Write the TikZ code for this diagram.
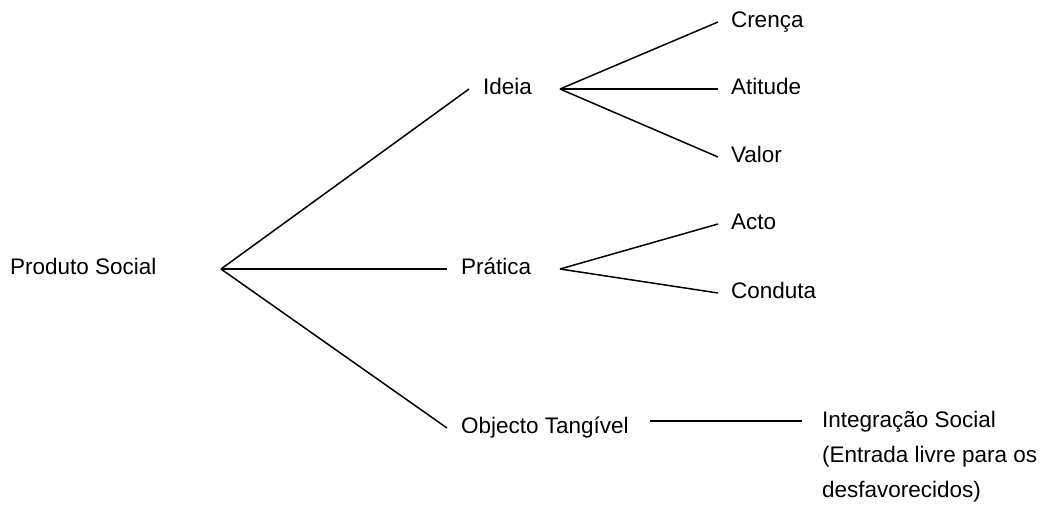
\documentclass[tikz,border=0pt]{standalone}
\usepackage{fontspec}
\setmainfont{Liberation Sans}
\usepackage{tikz}

\tikzset{
	ramo/.style={line width=1.5pt},
	conceito/.style={anchor=west, inner sep=0pt, outer xsep=#1, outer ysep=0pt, text height=16pt, text depth=5pt},
	conceito/.default=14pt
}

\begin{document}
\begin{tikzpicture}[x=1pt,y=-1pt,every node/.style={font=\fontsize{22.5}{35}\selectfont}]
			\useasboundingbox (0,0) rectangle (1042,512);
			\node[conceito=0pt] (produto) at (10,269) {Produto Social};
			\coordinate (raiz) at (221,269);
			\node[conceito] (ideia) at (469,89) {Ideia};
			\node[conceito] (pratica) at (447,269) {Prática};
			\node[conceito] (objecto) at (447,428) {Objecto Tangível};
			\coordinate (nideia) at (560,89);
			\coordinate (npratica) at (560,269);
			\node[conceito=13pt] (crenca) at (718,22) {Crença};
			\node[conceito=13pt] (atitude) at (718,89) {Atitude};
			\node[conceito=13pt] (valor) at (718,157) {Valor};
			\node[conceito=13pt] (acto) at (718,224) {Acto};
			\node[conceito=13pt] (conduta) at (718,293) {Conduta};
			\coordinate (ntangivel) at (650,421);
			\node[anchor=north west, inner sep=0pt, outer xsep=20pt, outer ysep=0pt, align=left] (integracao) at (802,411)
				{Integração Social\\(Entrada livre para os\\desfavorecidos)};
			\foreach \filho in {ideia,pratica,objecto}
				\draw[ramo] (raiz) -- (\filho.west);
			\foreach \filho in {crenca,atitude,valor}
				\draw[ramo] (nideia) -- (\filho.west);
			\foreach \filho in {acto,conduta}
				\draw[ramo] (npratica) -- (\filho.west);
			\draw[ramo] (ntangivel) -- (integracao.west |- ntangivel);
\end{tikzpicture}
\end{document}
